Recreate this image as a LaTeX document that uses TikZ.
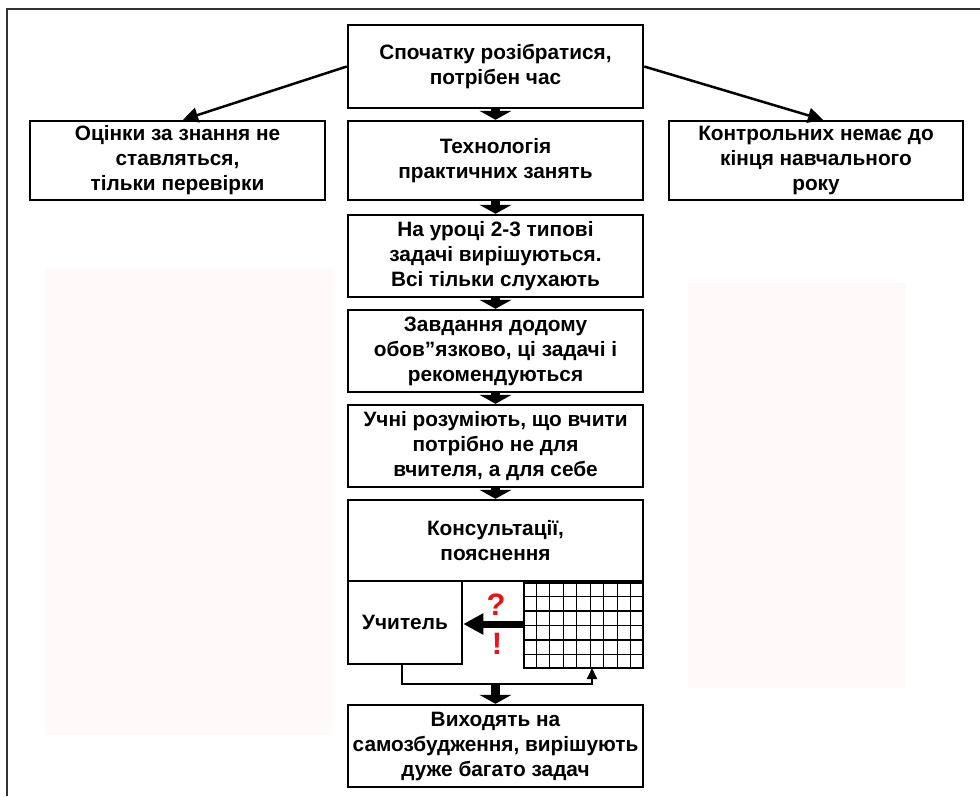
\documentclass[tikz,border=0pt]{standalone}
\usepackage{fontspec}
\setmainfont{Liberation Sans}
\usetikzlibrary{arrows.meta,calc}
\definecolor{pinkbg}{RGB}{255,250,250}
\definecolor{framegray}{RGB}{50,50,50}
\definecolor{qred}{RGB}{235,20,20}
\begin{document}
\begin{tikzpicture}[x=1pt,y=-1pt,
  box/.style={draw, line width=2.5pt, inner sep=0pt, align=center,
    font=\fontsize{20.8}{25}\selectfont\bfseries, minimum width=295pt},
  bigarrow/.style={line width=9pt, -{Triangle[width=32pt,length=9pt]}},
  sidearrow/.style={line width=2.5pt, -{Triangle[width=15pt,length=15pt]}},
  thinarrow/.style={line width=2pt, -{Triangle[width=10pt,length=11pt]}},
  gridline/.style={line width=1.3pt},
  redsign/.style={text=qred, font=\fontsize{31}{31}\selectfont\bfseries, inner sep=0pt}]
\useasboundingbox (0,0) rectangle (980,796);
\fill[white] (0,0) rectangle (980,796);
% faint background panels
\fill[pinkbg] (45,268) rectangle (333,735);
\fill[pinkbg] (688,283) rectangle (906,688);
% partial frame
\draw[framegray, line width=2pt] (6.5,796) -- (6.5,8.5) -- (980,8.5);
% boxes
\node[box, minimum height=83pt] (top) at (495.5,66.5) {Спочатку розібратися,\\потрібен час};
\node[box, minimum height=79pt] (left) at (177.5,160.5) {Оцінки за знання не\\ставляться,\\тільки перевірки};
\node[box, minimum height=79pt] (tech) at (495.5,160.5) {Технологія\\практичних занять};
\node[box, minimum height=79pt, minimum width=294pt] (right) at (816,160.5) {Контрольних немає до\\кінця навчального\\року};
\node[box, minimum height=82pt] (b3) at (495.5,256) {На уроці 2-3 типові\\задачі вирішуються.\\Всі тільки слухають};
\node[box, minimum height=82pt] (b4) at (495.5,351) {Завдання додому\\обов”язково, ці задачі і\\рекомендуються};
\node[box, minimum height=82pt] (b5) at (495.5,446) {Учні розуміють, що вчити\\потрібно не для\\вчителя, а для себе};
\node[box, minimum height=81pt] (cons) at (495.5,540.5) {Консультації,\\пояснення};
\node[box, minimum height=83pt, minimum width=114pt] (teacher) at (405,622.5) {Учитель};
\node[draw, line width=2.5pt, inner sep=0pt, minimum width=119pt, minimum height=85pt] (grid) at (583.5,625.5) {};
\foreach \i in {1,...,8}
  \draw[gridline] ($(grid.north west)!\i/9!(grid.north east)$) -- ($(grid.south west)!\i/9!(grid.south east)$);
\foreach \j in {1,...,5}
  \draw[gridline] ($(grid.north west)!\j/6!(grid.south west)$) -- ($(grid.north east)!\j/6!(grid.south east)$);
\node[box, minimum height=82pt] (bottom) at (495.5,746) {Виходять на\\самозбудження, вирішують\\дуже багато задач};
% connectors
\coordinate (leftTip) at (183,121);
\coordinate (rightTip) at (823,121);
\draw[sidearrow] (top.west) -- (left.north -| leftTip);
\draw[sidearrow] (top.east) -- (right.north -| rightTip);
\draw[bigarrow] (top.south) -- (tech.north);
\draw[bigarrow] (tech.south) -- (b3.north);
\draw[bigarrow] (b3.south) -- (b4.north);
\draw[bigarrow] (b4.south) -- (b5.north);
\draw[bigarrow] (b5.south) -- (cons.north);
\coordinate (arrowStart) at (524,624);
\draw[line width=7pt, -{Triangle[width=20pt,length=20pt]}] (arrowStart) -- (arrowStart -| teacher.east);
\node[redsign] (q) at (496,605) {?};
\node[redsign] (ex) at (497,644) {!};
\coordinate (fbmid) at (495.5,684);
\coordinate (gridin) at (592,668);
\draw[line width=2pt] ([xshift=-3pt]teacher.south) |- (fbmid);
\draw[thinarrow] (fbmid) -| (gridin);
\draw[bigarrow] (fbmid) -- (bottom.north);
\end{tikzpicture}
\end{document}
